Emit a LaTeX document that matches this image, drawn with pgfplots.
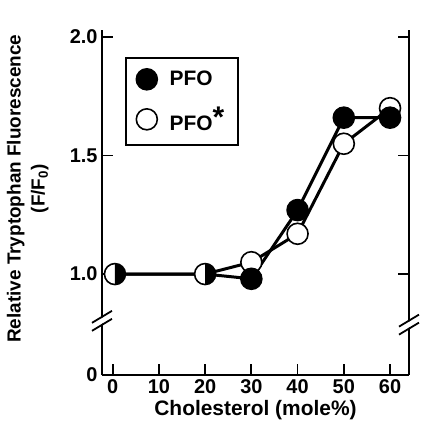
\documentclass[border=0pt]{standalone}
\usepackage{fontspec}
\setmainfont{Liberation Sans}
\usepackage{pgfplots}
\pgfplotsset{compat=1.18}

% circle, left half white and right half black
\pgfdeclareplotmark{halfcirc}{%
  \pgfpathcircle{\pgfpointorigin}{\pgfplotmarksize}%
  \pgfsetfillcolor{white}\pgfusepath{fill}%
  \pgfpathmoveto{\pgfpoint{0pt}{\pgfplotmarksize}}%
  \pgfpatharc{90}{-90}{\pgfplotmarksize}%
  \pgfpathclose
  \pgfsetfillcolor{black}\pgfusepath{fill}%
  \pgfpathcircle{\pgfpointorigin}{\pgfplotmarksize}%
  \pgfusepath{stroke}%
}

\begin{document}
\begin{tikzpicture}
\begin{axis}[
    scale only axis,
    width=307bp, height=345bp,
    xmin=-2.3, xmax=64.1,
    ymin=0.574, ymax=2.03,
    axis x line*=bottom,
    axis y line*=box,
    axis line style={line width=1.8pt},
    clip=false,
    xtick={0,10,...,60},
    ytick={0.574,1,1.5,2},
    yticklabels={0,1.0,1.5,2.0},
    ytick pos=both, yticklabel pos=left,
    tick align=inside,
    major tick length=11bp,
    tick style={line width=1.8pt, black},
    /pgf/number format/assume math mode=true,
    tick label style={font=\fontsize{20}{24}\selectfont\bfseries},
    xticklabel style={yshift=-1bp},
    yticklabel style={xshift=-1bp},
    xlabel={Cholesterol (mole\%)},
    ylabel={Relative Tryptophan Fluorescence\\(F/F\textsubscript{0})},
    xlabel style={font=\fontsize{21}{24}\selectfont\bfseries},
    ylabel style={font=\fontsize{19}{24}\selectfont\bfseries, align=center,
      at={(rel axis cs:-0.163,0.54)}, anchor=south},
    legend image code/.code={%
      \path (0bp,0bp) (37bp,0bp);
      \draw[#1] plot coordinates {(17bp,0bp)};},
    legend style={at={(rel axis cs:0.075,0.922)}, anchor=north west,
      draw=black, line width=1.8pt,
      font=\fontsize{21}{24}\selectfont\bfseries,
      inner xsep=3bp, inner ysep=11bp, row sep=15bp,
      cells={anchor=west}},
]
\addlegendimage{only marks, mark=*, mark size=10.5bp,
  mark options={fill=black, draw=black, line width=1.6pt}}
\addlegendentry{PFO}
\addlegendimage{only marks, mark=*, mark size=10.5bp,
  mark options={fill=white, draw=black, line width=1.6pt}}
\addlegendentry{PFO\raisebox{3bp}{\fontsize{30}{30}\selectfont *}\hspace*{9bp}}

% connecting lines
\addplot[forget plot, line width=3pt, black, no marks] coordinates {
  (0.5,1.0) (20,1.0) (30,1.05) (40,1.17) (50,1.55) (60,1.70)};
\addplot[forget plot, line width=3pt, black, no marks] coordinates {
  (0.5,1.0) (20,1.0) (30,0.98) (40,1.27) (50,1.66) (60,1.66)};
% PFO* (open)
\addplot[forget plot, only marks, mark=*, mark size=10.5bp,
  mark options={fill=white, draw=black, line width=1.6pt}] coordinates {
  (30,1.05) (40,1.17) (50,1.55) (60,1.70)};
% PFO (filled)
\addplot[forget plot, only marks, mark=*, mark size=10.5bp,
  mark options={fill=black, draw=black, line width=1.6pt}] coordinates {
  (30,0.98) (40,1.27) (50,1.66) (60,1.66)};
% coinciding points
\addplot[forget plot, only marks, mark=halfcirc, mark size=10.5bp,
  mark options={draw=black, line width=1.6pt}] coordinates {
  (0.5,1.0) (20,1.0)};

% axis breaks
\draw[white, line width=5bp] ([shift={(-10bp,-6bp)}]rel axis cs:0,0.157) -- ([shift={(10bp,6bp)}]rel axis cs:0,0.157);
\draw[black, line width=1.8pt] ([shift={(-10bp,-10bp)}]rel axis cs:0,0.157) -- ([shift={(10bp,2bp)}]rel axis cs:0,0.157);
\draw[black, line width=1.8pt] ([shift={(-10bp,-2bp)}]rel axis cs:0,0.157) -- ([shift={(10bp,10bp)}]rel axis cs:0,0.157);
\draw[white, line width=5bp] ([shift={(-10bp,-6bp)}]rel axis cs:1,0.146) -- ([shift={(10bp,6bp)}]rel axis cs:1,0.146);
\draw[black, line width=1.8pt] ([shift={(-10bp,-10bp)}]rel axis cs:1,0.146) -- ([shift={(10bp,2bp)}]rel axis cs:1,0.146);
\draw[black, line width=1.8pt] ([shift={(-10bp,-2bp)}]rel axis cs:1,0.146) -- ([shift={(10bp,10bp)}]rel axis cs:1,0.146);
% page size of the reference
\path ([shift={(-102bp,-58bp)}]rel axis cs:0,0) rectangle ([shift={(314bp,375bp)}]rel axis cs:0,0);
\end{axis}
\end{tikzpicture}
\end{document}
